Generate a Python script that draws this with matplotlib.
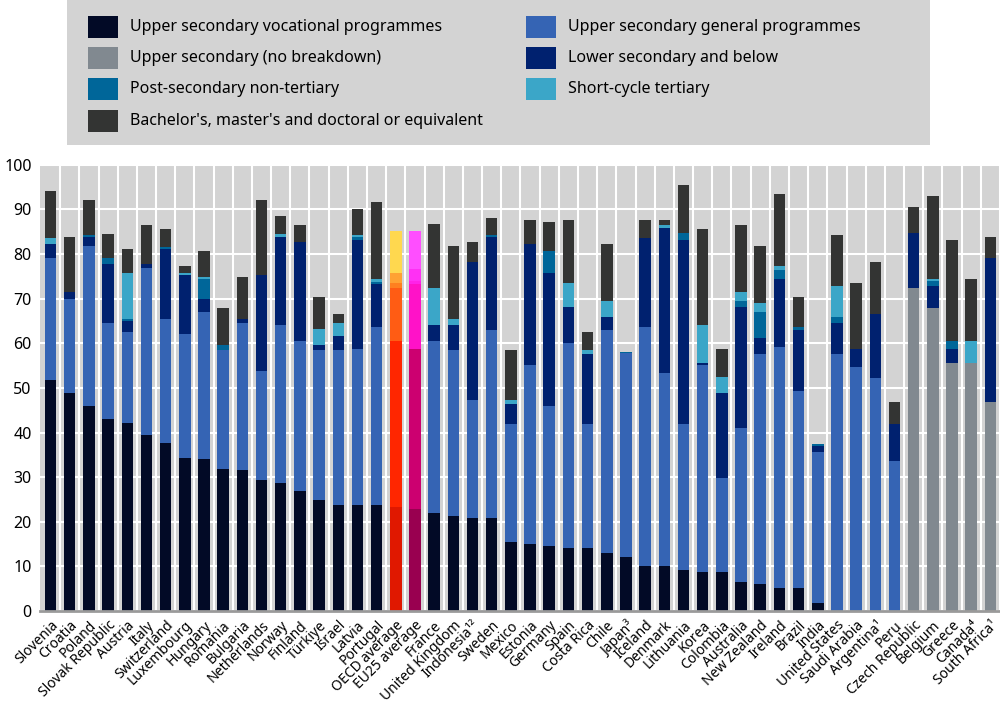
import matplotlib
matplotlib.use("Agg")
import matplotlib.pyplot as plt
import numpy as np
from matplotlib.patches import Rectangle

countries = ["Slovenia", "Croatia", "Poland", "Slovak Republic", "Austria", "Italy",
             "Switzerland", "Luxembourg", "Hungary", "Romania", "Bulgaria", "Netherlands",
             "Norway", "Finland", "Türkiye", "Israel", "Latvia", "Portugal",
             "OECD average", "EU25 average", "France", "United Kingdom", "Indonesia\u00b9\u00b2",
             "Sweden", "Mexico", "Estonia", "Germany", "Spain", "Costa Rica", "Chile",
             "Japan\u00b3", "Iceland", "Denmark", "Lithuania", "Korea", "Colombia",
             "Australia", "New Zealand", "Ireland", "Brazil", "India", "United States",
             "Saudi Arabia", "Argentina\u00b9", "Peru", "Czech Republic", "Belgium",
             "Greece", "Canada\u2074", "South Africa\u00b9"]

# segment values (%), bottom to top
vocational = [51.8, 48.8, 46.0, 43.1, 42.2, 39.4, 37.7, 34.4, 34.0, 31.9, 31.5, 29.4,
              28.6, 27.0, 24.9, 23.7, 23.7, 23.7, 23.2, 22.8, 22.0, 21.2, 20.8, 20.8,
              15.5, 15.0, 14.6, 14.2, 14.2, 12.9, 12.1, 10.1, 10.1, 9.2, 8.8, 8.8,
              6.4, 6.0, 5.1, 5.1, 1.8, 0, 0, 0, 0, 0, 0, 0, 0, 0]
general = [27.2, 21.1, 35.8, 21.5, 20.4, 37.5, 27.7, 27.6, 33.0, 26.5, 33.1, 24.4,
           35.5, 33.5, 33.5, 34.7, 35.0, 40.0, 37.2, 35.9, 38.4, 37.2, 26.5, 42.1,
           26.4, 40.1, 31.4, 45.8, 27.7, 50.0, 45.7, 53.6, 43.3, 32.7, 46.3, 21.1,
           34.6, 51.5, 54.1, 44.2, 33.9, 57.5, 54.6, 52.2, 33.6, 0, 0, 0, 0, 0]
no_breakdown = [0] * 45 + [72.3, 67.9, 55.5, 55.5, 46.8]
lower_sec = [3.2, 1.6, 2.1, 13.1, 2.4, 0.8, 15.7, 13.3, 2.9, 0, 0.8, 21.5,
             19.8, 22.2, 1.2, 3.3, 24.5, 9.5, 12.0, 14.5, 3.7, 5.7, 30.8, 21.0,
             4.6, 27.1, 29.7, 8.2, 15.6, 2.9, 0, 19.8, 32.5, 41.3, 0.4, 18.9,
             27.2, 3.7, 15.2, 13.6, 1.3, 7.1, 4.1, 14.4, 8.3, 12.5, 5.0, 3.2, 0, 32.2]
post_sec = [0, 0, 0.3, 1.3, 0.4, 0, 0.4, 0, 4.5, 1.2, 0, 0,
            0, 0, 0, 0, 0.5, 0.6, 1.2, 0.8, 0, 0, 0, 0.4,
            0, 0, 4.9, 0, 0, 0, 0.3, 0, 0, 1.5, 0, 0,
            1.3, 5.8, 2.1, 0.8, 0.4, 1.2, 0, 0, 0, 0, 1.1, 1.7, 0, 0]
short_cycle = [1.3, 0, 0, 0, 10.3, 0, 0, 0.4, 0.4, 0, 0, 0,
               0.5, 0, 3.7, 2.9, 0.5, 0.6, 2.1, 2.6, 8.2, 1.3, 0, 0,
               0.8, 0, 0, 5.4, 0.9, 3.7, 0, 0, 0.5, 0, 8.6, 3.7,
               2.0, 2.1, 0.8, 0, 0, 7.0, 0, 0, 0, 0, 0.4, 0, 4.9, 0]
bachelor = [10.7, 12.4, 8.0, 5.4, 5.4, 8.7, 4.1, 1.7, 5.8, 8.2, 9.4, 16.9,
            4.1, 3.7, 7.0, 2.0, 5.9, 17.3, 9.5, 8.5, 14.5, 16.4, 4.6, 3.7,
            11.1, 5.4, 6.6, 14.0, 4.1, 12.7, 0, 4.1, 1.2, 10.7, 21.5, 6.2,
            14.9, 12.7, 16.1, 6.6, 0, 11.5, 14.9, 11.5, 4.9, 5.7, 18.6, 22.7, 14.0, 4.9]

labels = ["Upper secondary vocational programmes", "Upper secondary general programmes",
          "Upper secondary (no breakdown)", "Lower secondary and below",
          "Post-secondary non-tertiary", "Short-cycle tertiary",
          "Bachelor's, master's and doctoral or equivalent"]
colors = ["#020a26", "#3564b4", "#818990", "#00216f", "#006699", "#3ba6c8", "#333433"]
oecd_colors = ["#e01800", "#ff2600", "#ff5c14", "#ff8020", "#ffa233", "#ffd84f"]
eu_colors = ["#990050", "#cc0070", "#ff12c8", "#ff22e8", "#ff30f4", "#ff4eff"]

series = [vocational, general, no_breakdown, lower_sec, post_sec, short_cycle, bachelor]

plt.rcParams['font.family'] = ['Noto Sans', 'DejaVu Sans']

fig = plt.figure(figsize=(10, 7.05), dpi=100)
ax = fig.add_axes([0.04, 0.1333, 0.96, 0.633])
ax.set_facecolor("#d3d3d3")

x = np.arange(len(countries))
width = 0.6
bottom = np.zeros(len(countries))
for k, vals in enumerate(series):
    vals = np.array(vals, dtype=float)
    cols = [colors[k]] * len(countries)
    # the two averages use their own palettes (no "no breakdown" segment)
    idx = k if k < 2 else k - 1
    if k != 2:
        cols[countries.index("OECD average")] = oecd_colors[idx]
        cols[countries.index("EU25 average")] = eu_colors[idx]
    ax.bar(x, vals, width, bottom=bottom, color=cols, linewidth=0, zorder=3)
    bottom += vals

ax.set_xlim(-0.55, len(countries) - 0.5)
ax.set_ylim(0, 100)
ax.set_yticks(range(0, 101, 10))
ax.set_xticks(x)
ax.set_xticklabels(countries, rotation=45, ha="right", rotation_mode="anchor", fontsize=10)
ax.set_xticks(np.arange(len(countries)) + 0.5, minor=True)
ax.tick_params(axis="x", which="both", length=0, pad=5)
ax.tick_params(axis="y", length=0, labelsize=11.5, pad=6)
ax.grid(axis="y", color="white", linewidth=1.5, zorder=1)
ax.grid(axis="x", which="minor", color="white", linewidth=1.5, zorder=1)
for s in ["top", "right", "left"]:
    ax.spines[s].set_visible(False)
ax.spines["bottom"].set_color("#9a9a9a")
ax.spines["bottom"].set_linewidth(2)
ax.spines["bottom"].set_zorder(4)

# legend box
fig.add_artist(Rectangle((0.067, 0.794), 0.863, 0.206, transform=fig.transFigure,
                         facecolor="#d3d3d3", edgecolor="none"))
leg_order = [0, 2, 4, 6, 1, 3, 5]
col_x = [0.088, 0.526]
row_y = [1 - 27 / 705, 1 - 58 / 705, 1 - 89 / 705, 1 - 121 / 705]
for n, k in enumerate(leg_order):
    c = 0 if n < 4 else 1
    r = n if n < 4 else n - 4
    fig.add_artist(Rectangle((col_x[c], row_y[r] - 0.0155), 0.03, 0.031,
                             transform=fig.transFigure, facecolor=colors[k], edgecolor="none"))
    fig.text(col_x[c] + 0.042, row_y[r], labels[k], fontsize=11.5, va="center", ha="left")

fig.savefig("out.png", dpi=100)
